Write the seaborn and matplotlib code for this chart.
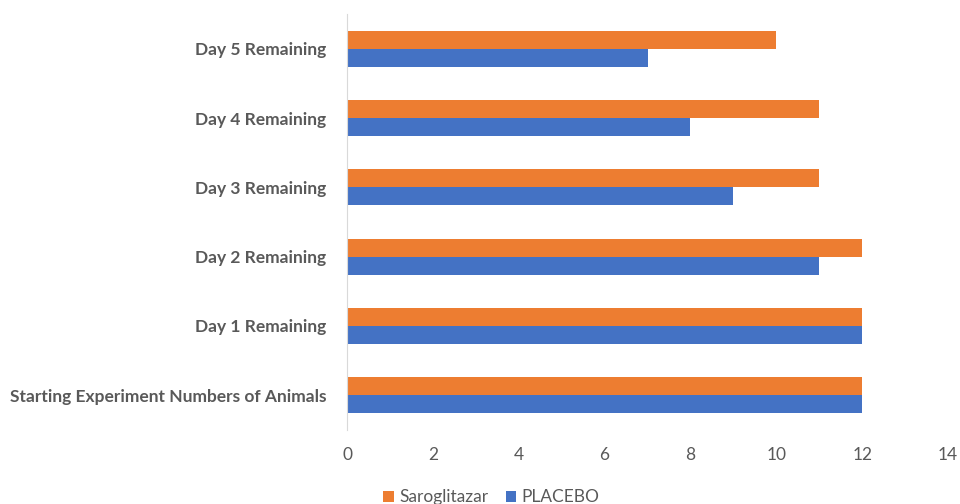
import numpy as np
import pandas as pd
import matplotlib
matplotlib.use("Agg")
import matplotlib.pyplot as plt
import seaborn as sns

# Données
categories = ['Starting Experiment Numbers of Animals', 'Day 1 Remaining',
              'Day 2 Remaining', 'Day 3 Remaining', 'Day 4 Remaining',
              'Day 5 Remaining']
saroglitazar = [12, 12, 12, 11, 11, 10]
placebo = [12, 12, 11, 9, 8, 7]
series = ['Saroglitazar', 'PLACEBO']
colors = ['#ED7D31', '#4472C4']

df = pd.DataFrame({
    'Etape': categories * 2,
    'Groupe': ['Saroglitazar'] * len(categories) + ['PLACEBO'] * len(categories),
    'Animaux': saroglitazar + placebo,
})

sns.set_style('white')
plt.rcParams['font.family'] = ['Lato', 'DejaVu Sans']

fig = plt.figure(figsize=(9.6, 5.04), dpi=100)
ax = fig.add_axes([0.3615, 0.147, 0.626, 0.825])

sns.barplot(data=df, x='Animaux', y='Etape', hue='Groupe',
            order=categories[::-1], hue_order=series,
            palette=colors, orient='h', width=0.52, gap=0,
            saturation=1, linewidth=0, ax=ax)

ax.set_xlim(0, 14)
ax.set_xticks(range(0, 15, 2))
ax.set_xlabel('')
ax.set_ylabel('')
for s in ['top', 'right', 'bottom']:
    ax.spines[s].set_visible(False)
ax.spines['left'].set_color('#D9D9D9')
ax.tick_params(axis='x', length=0, labelsize=12.5, labelcolor='#595959', pad=12)
ax.tick_params(axis='y', length=0, labelsize=12.5, labelcolor='#595959', pad=15)
for lab in ax.get_yticklabels():
    lab.set_fontweight('bold')

ax.legend(loc='upper center', bbox_to_anchor=(0.24, -0.105), ncol=2,
          frameon=False, fontsize=12.5, handlelength=0.6, handleheight=0.6,
          handletextpad=0.3, columnspacing=1.0, labelcolor='#595959')

plt.savefig('out.png', dpi=100)
